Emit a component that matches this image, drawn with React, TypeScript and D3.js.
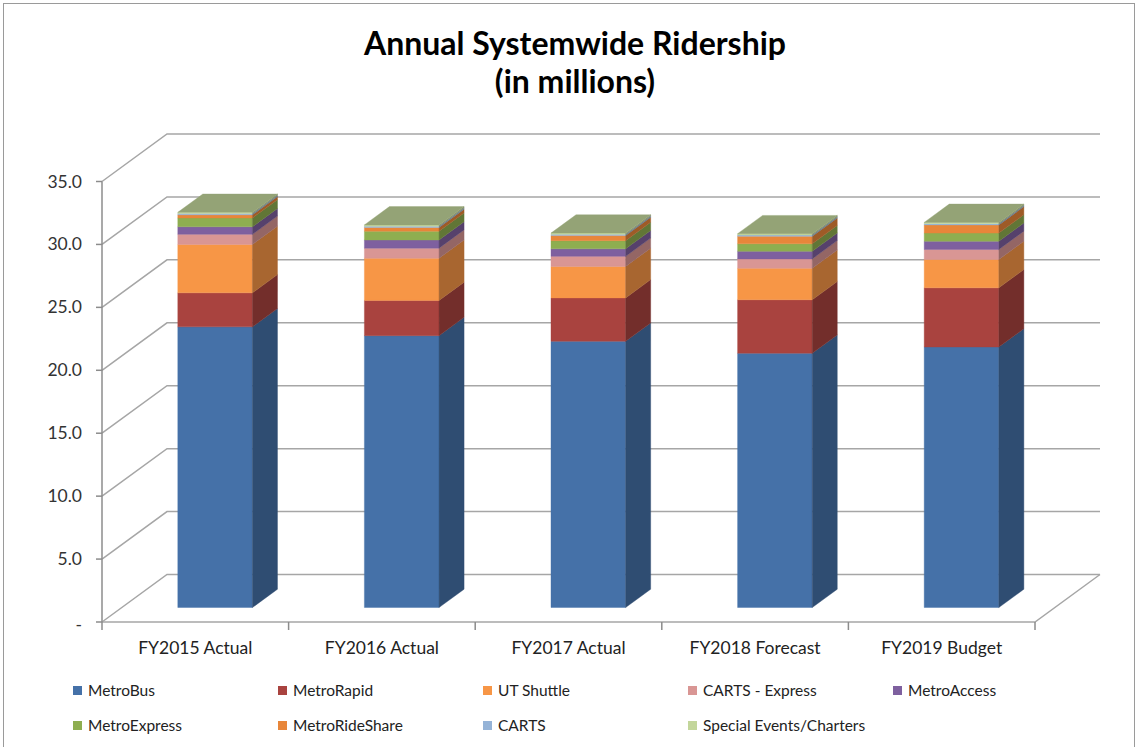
import React from "react";
import * as d3 from "d3";

const categories = ["FY2015 Actual", "FY2016 Actual", "FY2017 Actual", "FY2018 Forecast", "FY2019 Budget"];
const seriesNames = [
  "MetroBus",
  "MetroRapid",
  "UT Shuttle",
  "CARTS - Express",
  "MetroAccess",
  "MetroExpress",
  "MetroRideShare",
  "CARTS",
  "Special Events/Charters",
];
const metroBus = [22.3, 21.6, 21.15, 20.2, 20.7];
const metroRapid = [2.7, 2.8, 3.45, 4.25, 4.7];
const utShuttle = [3.85, 3.35, 2.5, 2.5, 2.25];
const cartsExpress = [0.8, 0.8, 0.8, 0.75, 0.8];
const metroAccess = [0.6, 0.65, 0.6, 0.6, 0.65];
const metroExpress = [0.7, 0.7, 0.65, 0.6, 0.65];
const metroRideShare = [0.25, 0.3, 0.4, 0.6, 0.65];
const carts = [0.1, 0.1, 0.1, 0.1, 0.1];
const specialEvents = [0.1, 0.1, 0.1, 0.1, 0.1];
const yTickValues = [0, 5, 10, 15, 20, 25, 30, 35];
const yTickLabels = ["-", "5.0", "10.0", "15.0", "20.0", "25.0", "30.0", "35.0"];

const seriesValues = [
  metroBus,
  metroRapid,
  utShuttle,
  cartsExpress,
  metroAccess,
  metroExpress,
  metroRideShare,
  carts,
  specialEvents,
];
const colors = [
  "#4571A8",
  "#A9433F",
  "#F79646",
  "#D99694",
  "#7E609F",
  "#8EAE50",
  "#E8863A",
  "#95B3D7",
  "#C3D69B",
];

const W = 1139;
const H = 747;
const FONT = "Lato, 'Liberation Sans', Arial, sans-serif";

export default function App() {
  const x0 = 102;
  const x1 = 1035;
  const DX = 65;
  const DY = 47.5;
  const f0 = 0.305;
  const f1 = 0.69;

  const x = d3.scaleBand<string>().domain(categories).range([x0, x1]).padding(0);
  const y = d3.scaleLinear().domain([0, 35]).range([622, 181.5]);
  const proj = (px: number, v: number, f: number): [number, number] => [px + f * DX, y(v) - f * DY];
  const poly = (pts: [number, number][]) => pts.map((p) => p.join(",")).join(" ");

  const rows = categories.map((c, i) => {
    const r: any = { cat: c };
    seriesNames.forEach((s, j) => (r[s] = seriesValues[j][i]));
    return r;
  });
  const stack = d3.stack<any>().keys(seriesNames)(rows);

  const bw = x.bandwidth();
  const barW = bw * 0.4;
  const gridColor = "#A6A6A6";

  const shade = (c: string, k: number) => {
    const col = d3.rgb(c);
    return d3.rgb(col.r * k, col.g * k, col.b * k).formatHex();
  };

  return (
    <svg
      width={W}
      height={H}
      style={{ position: "absolute", left: 0, top: 0, background: "#fff" }}
      fontFamily={FONT}
    >
      <rect x={0} y={0} width={W} height={H} fill="#fff" />
      <rect x={3.5} y={3.5} width={1131} height={760} fill="none" stroke="#9a9a9a" strokeWidth={1} />
      <text x={575} y={55} textAnchor="middle" fontSize={32} fontWeight="bold" fill="#000">
        Annual Systemwide Ridership
      </text>
      <text x={575} y={93} textAnchor="middle" fontSize={32} fontWeight="bold" fill="#000">
        (in millions)
      </text>

      {/* walls: gridlines */}
      {yTickValues.map((v) => {
        const a = proj(x0, v, 0);
        const b = proj(x0, v, 1);
        const c = proj(x1, v, 1);
        return (
          <polyline
            key={"g" + v}
            points={poly([a, b, c])}
            fill="none"
            stroke={gridColor}
            strokeWidth={1.5}
          />
        );
      })}
      {/* floor */}
      <polyline
        points={poly([proj(x0, 0, 0), proj(x1, 0, 0), proj(x1, 0, 1)])}
        fill="none"
        stroke={gridColor}
        strokeWidth={1.5}
      />
      {/* y axis */}
      <line x1={x0} y1={y(35)} x2={x0} y2={y(0) + 8} stroke="#8c8c8c" strokeWidth={1.5} />
      {yTickValues.map((v, i) => (
        <g key={"yt" + v}>
          <line x1={x0 - 6} x2={x0} y1={y(v)} y2={y(v)} stroke="#8c8c8c" strokeWidth={1.5} />
          <text x={82} y={y(v) + 6 + (v === 0 ? 3 : 0)} textAnchor="end" fontSize={17.5} fill="#333">
            {yTickLabels[i]}
          </text>
        </g>
      ))}
      {/* x axis ticks */}
      {categories.map((c) => (
        <line
          key={"xt" + c}
          x1={(x(c) as number) + bw}
          x2={(x(c) as number) + bw}
          y1={y(0)}
          y2={y(0) + 8}
          stroke="#8c8c8c"
          strokeWidth={1.5}
        />
      ))}
      {categories.map((c) => (
        <text
          key={"xl" + c}
          x={(x(c) as number) + bw / 2}
          y={654}
          textAnchor="middle"
          fontSize={17.5}
          fill="#222"
        >
          {c}
        </text>
      ))}

      {/* bars */}
      {categories.map((c, i) => {
        const left = (x(c) as number) + (bw - barW) / 2;
        const right = left + barW;
        const topV = stack[stack.length - 1][i][1];
        return (
          <g key={"bar" + c}>
            {stack.map((s, j) => {
              const [v0, v1] = s[i];
              if (v1 - v0 <= 0) return null;
              return (
                <g key={s.key}>
                  <polygon
                    points={poly([proj(left, v0, f0), proj(right, v0, f0), proj(right, v1, f0), proj(left, v1, f0)])}
                    fill={colors[j]}
                    stroke={colors[j]}
                    strokeWidth={0.4}
                  />
                  <polygon
                    points={poly([proj(right, v0, f0), proj(right, v0, f1), proj(right, v1, f1), proj(right, v1, f0)])}
                    fill={shade(colors[j], 0.68)}
                    stroke={shade(colors[j], 0.68)}
                    strokeWidth={0.4}
                  />
                </g>
              );
            })}
            <polygon
              points={poly([proj(left, topV, f0), proj(right, topV, f0), proj(right, topV, f1), proj(left, topV, f1)])}
              fill={shade(colors[colors.length - 1], 0.76)}
              stroke={shade(colors[colors.length - 1], 0.76)}
              strokeWidth={0.4}
            />
          </g>
        );
      })}

      {/* legend */}
      {seriesNames.map((s, i) => {
        const row = i < 5 ? 0 : 1;
        const col = i < 5 ? i : i - 5;
        const lx = 73 + col * 205;
        const ly = row === 0 ? 691 : 726;
        return (
          <g key={"lg" + s}>
            <rect x={lx} y={ly - 5} width={9} height={9} fill={colors[i]} />
            <text x={lx + 15} y={ly + 5} fontSize={15.5} fill="#222">
              {s}
            </text>
          </g>
        );
      })}
    </svg>
  );
}
